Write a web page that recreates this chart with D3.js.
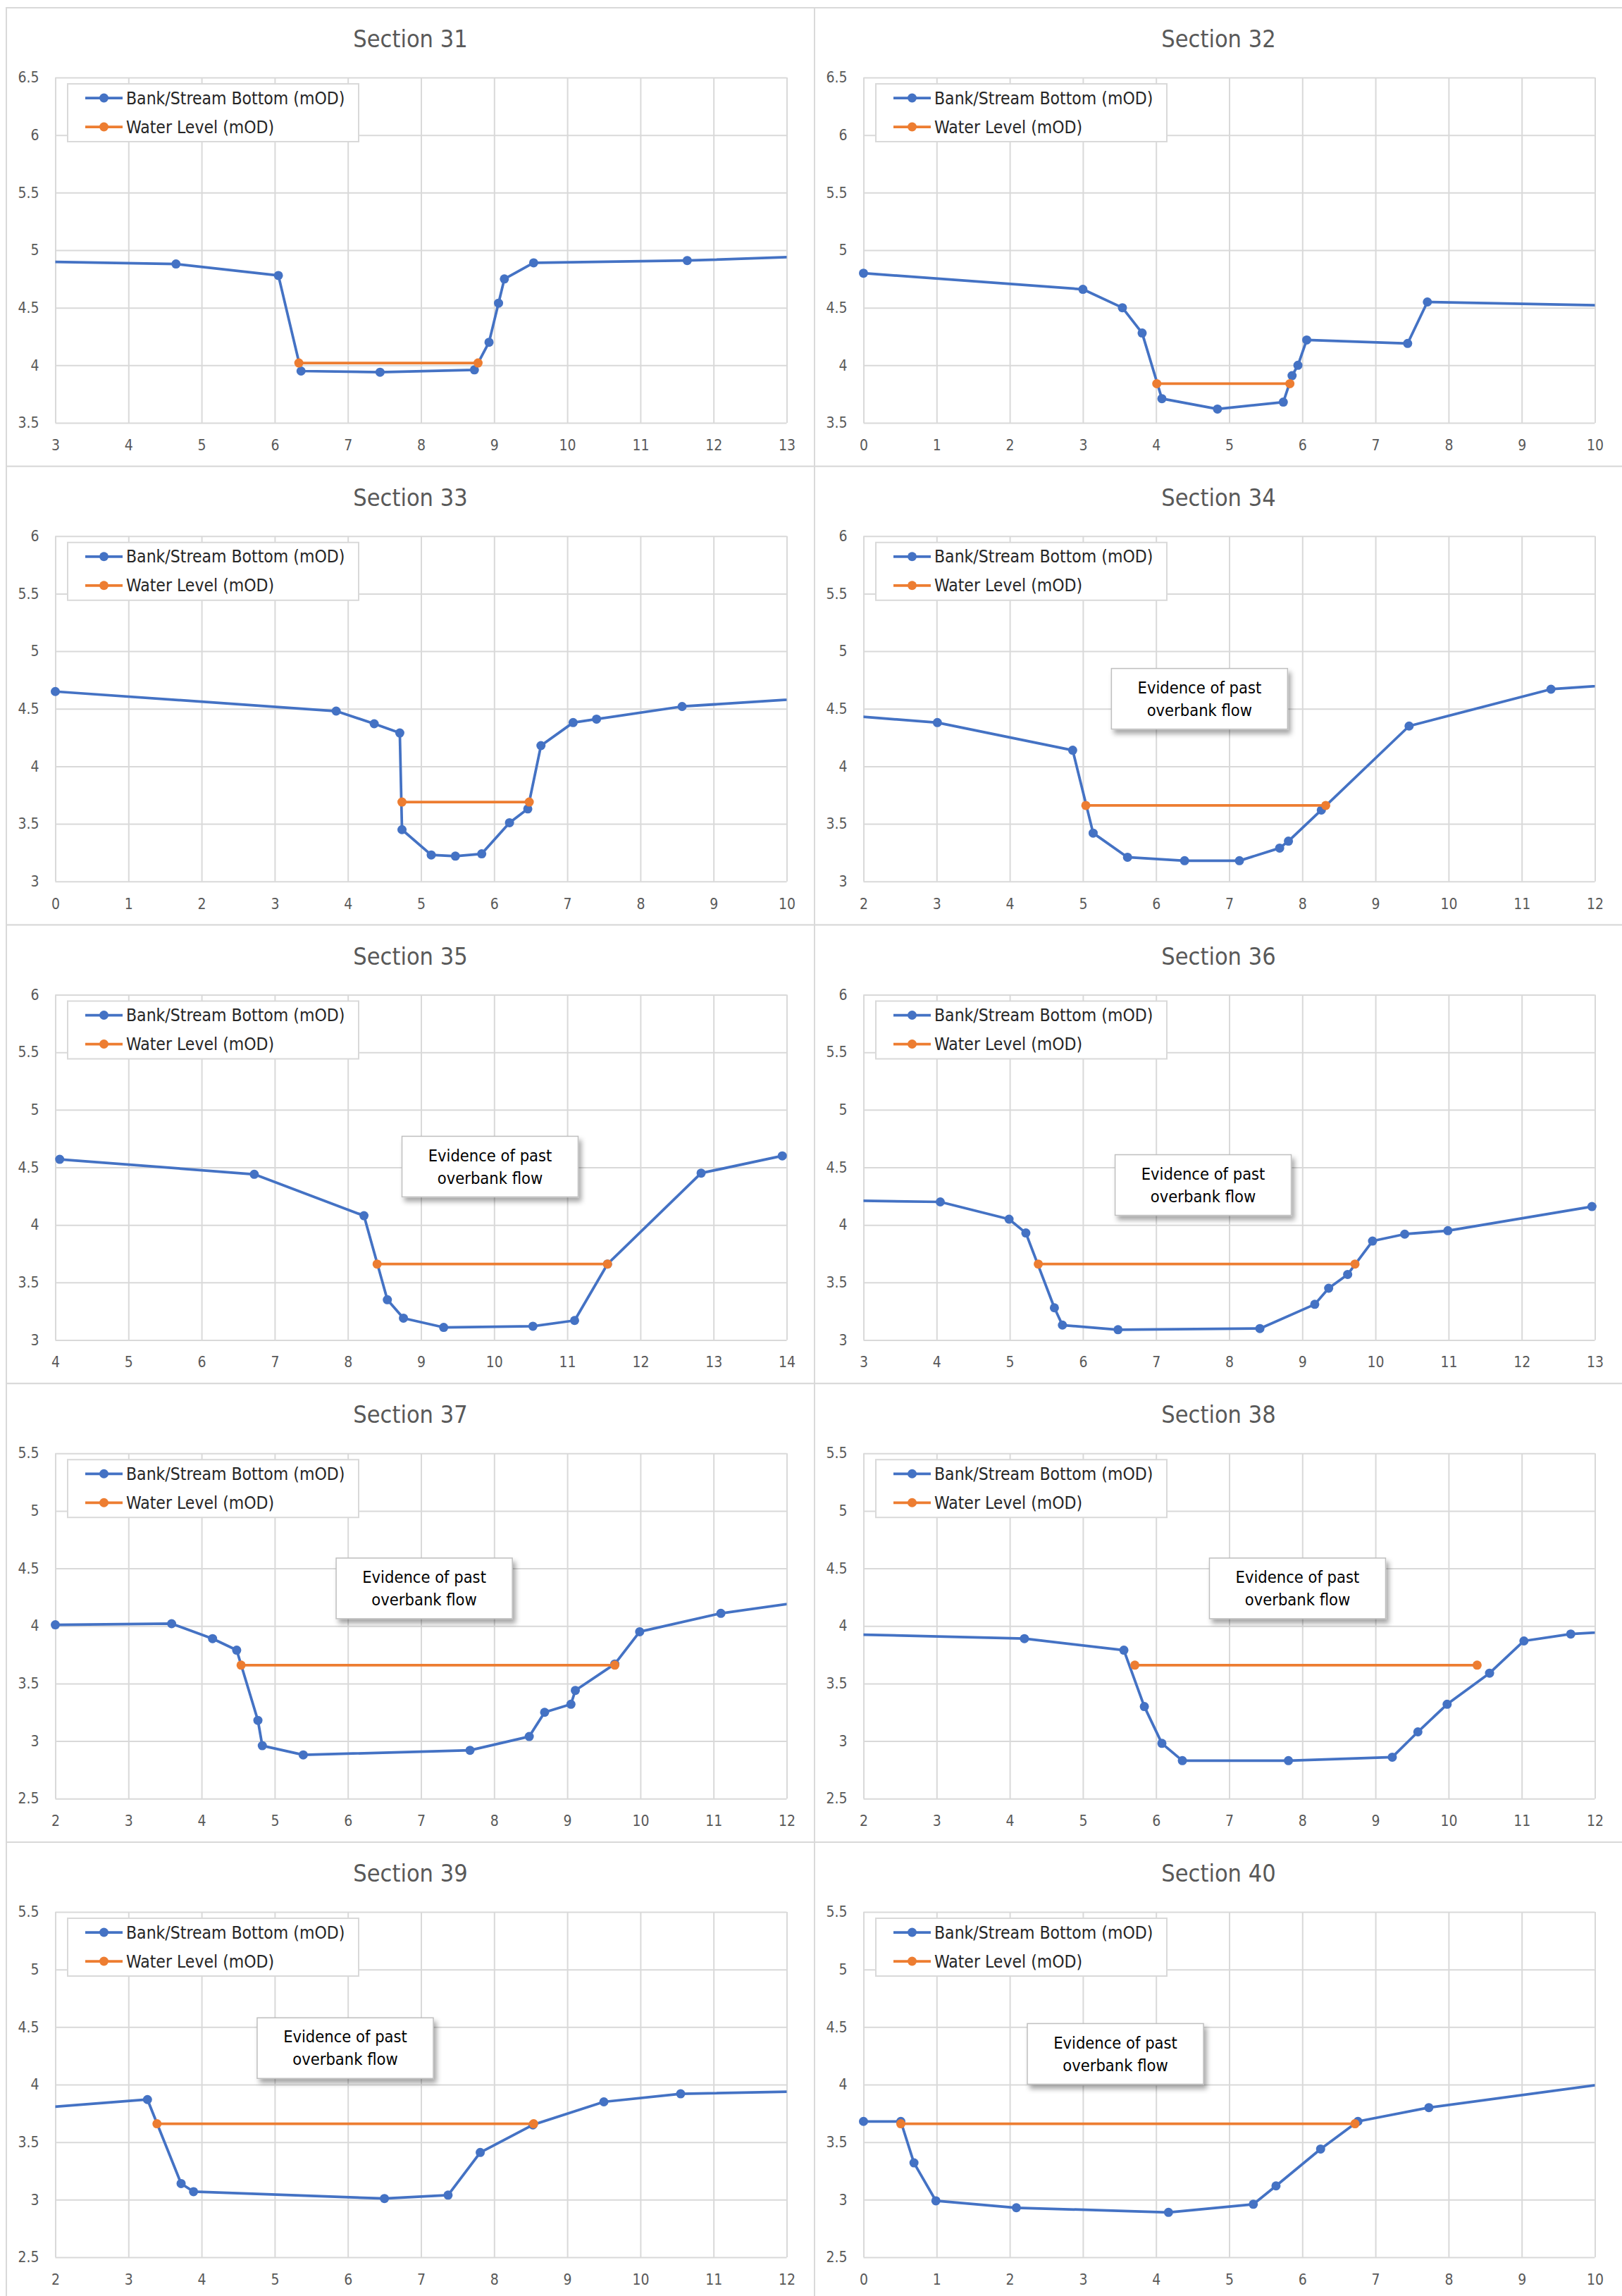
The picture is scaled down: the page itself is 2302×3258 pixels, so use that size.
<!DOCTYPE html>
<html>
<head>
<meta charset="utf-8">
<script src="https://cdn.jsdelivr.net/npm/d3@7"></script>
<style>
  html, body { margin: 0; padding: 0; background: #fff; }
  svg { display: block; }
</style>
</head>
<body>
<script>
// ---- data ----
const sectionNames = ["Section 31", "Section 32", "Section 33", "Section 34", "Section 35",
                      "Section 36", "Section 37", "Section 38", "Section 39", "Section 40"];

const xDomains = [[3, 13], [0, 10], [0, 10], [2, 12], [4, 14], [3, 13], [2, 12], [2, 12], [2, 12], [0, 10]];
const yDomains = [[3.5, 6.5], [3.5, 6.5], [3, 6], [3, 6], [3, 6], [3, 6], [2.5, 5.5], [2.5, 5.5], [2.5, 5.5], [2.5, 5.5]];

// chainage (m) of each surveyed bank / bed point; first and last may sit outside the axis range
const bankStation = [
	[2.0, 4.65, 6.05, 6.36, 7.44, 8.73, 8.93, 9.06, 9.14, 9.54, 11.64, 14.0],
	[0, 3.0, 3.54, 3.81, 4.08, 4.84, 5.74, 5.86, 5.94, 6.06, 7.44, 7.71, 11.0],
	[0, 3.84, 4.36, 4.71, 4.74, 5.14, 5.47, 5.83, 6.21, 6.46, 6.64, 7.08, 7.40, 8.57, 11.0],
	[1.0, 3.01, 4.86, 5.14, 5.61, 6.39, 7.14, 7.69, 7.81, 8.26, 9.46, 11.40, 13.0],
	[4.06, 6.72, 8.22, 8.54, 8.76, 9.31, 10.53, 11.10, 11.55, 12.83, 13.94],
	[2.0, 4.05, 4.99, 5.22, 5.61, 5.72, 6.48, 8.42, 9.17, 9.36, 9.62, 9.96, 10.40, 10.99, 12.96],
	[2.0, 3.59, 4.15, 4.48, 4.77, 4.83, 5.39, 7.67, 8.48, 8.69, 9.05, 9.11, 9.65, 9.99, 11.10, 13.0],
	[1.0, 4.20, 5.56, 5.84, 6.08, 6.36, 7.81, 9.23, 9.58, 9.98, 10.56, 11.03, 11.67, 13.0],
	[1.0, 3.26, 3.72, 3.89, 6.50, 7.37, 7.81, 8.53, 9.50, 10.55, 13.0],
	[0, 0.51, 0.69, 0.99, 2.09, 4.17, 5.33, 5.64, 6.25, 6.76, 7.73, 11.0]
];

// bank / stream bottom level (mOD)
const bankLevel = [
	[4.91, 4.88, 4.78, 3.95, 3.94, 3.96, 4.20, 4.54, 4.75, 4.89, 4.91, 4.96],
	[4.80, 4.66, 4.50, 4.28, 3.71, 3.62, 3.68, 3.91, 4.00, 4.22, 4.19, 4.55, 4.51],
	[4.65, 4.48, 4.37, 4.29, 3.45, 3.23, 3.22, 3.24, 3.51, 3.63, 4.18, 4.38, 4.41, 4.52, 4.62],
	[4.48, 4.38, 4.14, 3.42, 3.21, 3.18, 3.18, 3.29, 3.35, 3.62, 4.35, 4.67, 4.74],
	[4.57, 4.44, 4.08, 3.35, 3.19, 3.11, 3.12, 3.17, 3.66, 4.45, 4.60],
	[4.22, 4.20, 4.05, 3.93, 3.28, 3.13, 3.09, 3.10, 3.31, 3.45, 3.57, 3.86, 3.92, 3.95, 4.16],
	[4.01, 4.02, 3.89, 3.79, 3.18, 2.96, 2.88, 2.92, 3.04, 3.25, 3.32, 3.44, 3.67, 3.95, 4.11, 4.28],
	[3.94, 3.89, 3.79, 3.30, 2.98, 2.83, 2.83, 2.86, 3.08, 3.32, 3.59, 3.87, 3.93, 3.98],
	[3.76, 3.87, 3.14, 3.07, 3.01, 3.04, 3.41, 3.65, 3.85, 3.92, 3.95],
	[3.68, 3.68, 3.32, 2.99, 2.93, 2.89, 2.96, 3.12, 3.44, 3.68, 3.80, 4.08]
];

// water level line: start / end chainage and level (mOD)
const waterFrom = [6.33, 4.01, 4.74, 5.04, 8.40, 5.39, 4.54, 5.71, 3.39, 0.51];
const waterTo = [8.78, 5.83, 6.48, 8.32, 11.55, 9.72, 9.65, 10.39, 8.54, 6.72];
const waterLevel = [4.02, 3.84, 3.69, 3.66, 3.66, 3.66, 3.66, 3.66, 3.66, 3.66];

const seriesNames = ["Bank/Stream Bottom (mOD)", "Water Level (mOD)"];
const noteLines = ["Evidence of past", "overbank flow"];
// top-left corner of the note box, in chart units (null = no note)
const noteAt = [null, null, null, [5.39, 4.85], [8.74, 4.77], [6.44, 4.61],
                [5.84, 4.59], [6.73, 4.59], [4.76, 4.58], [2.24, 4.53]];

// ---- layout ----
const W = 2302, H = 3258;
const colLeft = [9, 1156];
const rowTop = 11, rowStep = 650.75;
const panelW = 1147;
const plotLeft = 69.5, plotTop = 99, plotW = 1038, plotH = 490;
const blue = "#4472c4", orange = "#ed7d31", grid = "#d9d9d9";
const font = "'Liberation Sans Narrow', 'DejaVu Sans Condensed', 'Open Sans', sans-serif";
const fmt = d3.format("~f");

const svg = d3.select("body").append("svg")
	.attr("width", W)
	.attr("height", H)
	.style("font-family", font);

svg.append("rect").attr("width", W).attr("height", H).attr("fill", "#fff");

const defs = svg.append("defs");
defs.append("filter")
	.attr("id", "noteShadow")
	.attr("x", "-10%").attr("y", "-10%")
	.attr("width", "130%").attr("height", "140%")
	.append("feDropShadow")
	.attr("dx", 4).attr("dy", 6)
	.attr("stdDeviation", 3.5)
	.attr("flood-color", "#000")
	.attr("flood-opacity", 0.35);

sectionNames.forEach((name, i) => {
	const px = colLeft[i % 2];
	const py = rowTop + Math.floor(i / 2) * rowStep;
	const g = svg.append("g").attr("transform", `translate(${px},${py})`);

	// chart frame
	g.append("rect")
		.attr("width", panelW)
		.attr("height", rowStep)
		.attr("fill", "#fff")
		.attr("stroke", grid)
		.attr("stroke-width", 2);

	g.append("text")
		.attr("x", panelW / 2)
		.attr("y", 56)
		.attr("text-anchor", "middle")
		.attr("font-size", 34)
		.attr("fill", "#595959")
		.text(name);

	const x = d3.scaleLinear().domain(xDomains[i]).range([0, plotW]);
	const y = d3.scaleLinear().domain(yDomains[i]).range([plotH, 0]);

	const plot = g.append("g").attr("transform", `translate(${plotLeft},${plotTop})`);

	defs.append("clipPath")
		.attr("id", `clip-${i}`)
		.append("rect")
		.attr("width", plotW)
		.attr("height", plotH);

	const xTicks = d3.range(xDomains[i][0], xDomains[i][1] + 0.001, 1);
	const yTicks = d3.range(yDomains[i][0], yDomains[i][1] + 0.001, 0.5);

	const styleAxis = a => {
		a.select(".domain").remove();
		a.selectAll("line").attr("stroke", grid).attr("stroke-width", 2);
		a.selectAll("text")
			.attr("fill", "#595959")
			.attr("font-size", 21)
			.attr("font-family", font);
	};

	plot.append("g")
		.attr("transform", `translate(0,${plotH})`)
		.call(d3.axisBottom(x).tickValues(xTicks).tickFormat(fmt).tickSize(-plotH).tickPadding(24))
		.call(styleAxis);

	plot.append("g")
		.call(d3.axisLeft(y).tickValues(yTicks).tickFormat(fmt).tickSize(-plotW).tickPadding(23))
		.call(styleAxis);

	// series
	const bank = bankStation[i].map((s, k) => [s, bankLevel[i][k]]);
	const water = [[waterFrom[i], waterLevel[i]], [waterTo[i], waterLevel[i]]];
	const inside = d => d[0] >= xDomains[i][0] - 1e-9 && d[0] <= xDomains[i][1] + 1e-9;
	const line = d3.line().x(d => x(d[0])).y(d => y(d[1]));

	[[bank, blue], [water, orange]].forEach(([pts, color]) => {
		plot.append("path")
			.datum(pts)
			.attr("clip-path", `url(#clip-${i})`)
			.attr("fill", "none")
			.attr("stroke", color)
			.attr("stroke-width", 3.75)
			.attr("stroke-linejoin", "round")
			.attr("d", line);

		plot.append("g")
			.selectAll("circle")
			.data(pts.filter(inside))
			.join("circle")
			.attr("cx", d => x(d[0]))
			.attr("cy", d => y(d[1]))
			.attr("r", 6.5)
			.attr("fill", color);
	});

	// legend
	const leg = g.append("g").attr("transform", "translate(87,108)");
	leg.append("rect")
		.attr("width", 413)
		.attr("height", 82)
		.attr("fill", "#fff")
		.attr("stroke", grid)
		.attr("stroke-width", 2);

	[blue, orange].forEach((color, k) => {
		const row = leg.append("g").attr("transform", `translate(0,${20 + k * 41})`);
		row.append("line")
			.attr("x1", 25).attr("x2", 78)
			.attr("stroke", color)
			.attr("stroke-width", 3.75);
		row.append("circle")
			.attr("cx", 51.5)
			.attr("r", 6.5)
			.attr("fill", color);
		row.append("text")
			.attr("x", 83)
			.attr("dy", "0.35em")
			.attr("font-size", 24.5)
			.attr("fill", "#262626")
			.text(seriesNames[k]);
	});

	// note box
	if (noteAt[i]) {
		const nx = plotLeft + x(noteAt[i][0]);
		const ny = plotTop + y(noteAt[i][1]);
		const note = g.append("g").attr("transform", `translate(${nx},${ny})`);
		note.append("rect")
			.attr("width", 250)
			.attr("height", 86)
			.attr("fill", "#fff")
			.attr("stroke", "#bfbfbf")
			.attr("stroke-width", 1.5)
			.attr("filter", "url(#noteShadow)");
		noteLines.forEach((t, k) => {
			note.append("text")
				.attr("x", 125)
				.attr("y", 27 + k * 32)
				.attr("dy", "0.35em")
				.attr("text-anchor", "middle")
				.attr("font-size", 23.5)
				.attr("fill", "#000")
				.text(t);
		});
	}
});
</script>
</body>
</html>
